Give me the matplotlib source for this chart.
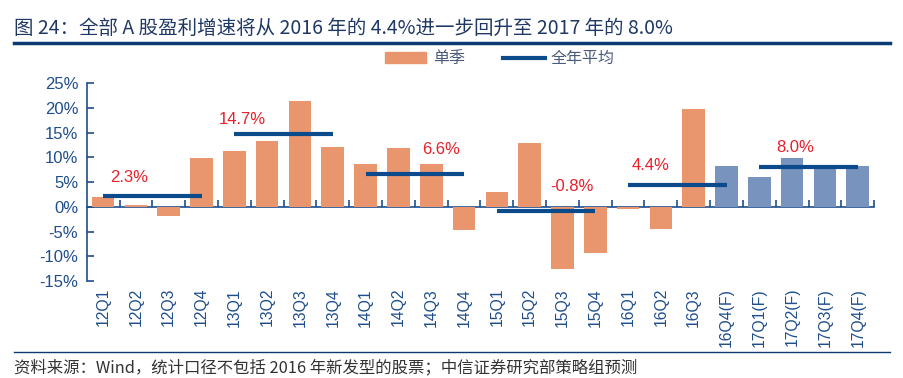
import matplotlib.pyplot as plt
from matplotlib.lines import Line2D
from matplotlib.patches import Patch

plt.rcParams['font.family'] = ['Noto Sans CJK SC', 'DejaVu Sans']

# 数据
quarters = ['12Q1', '12Q2', '12Q3', '12Q4', '13Q1', '13Q2', '13Q3', '13Q4',
            '14Q1', '14Q2', '14Q3', '14Q4', '15Q1', '15Q2', '15Q3', '15Q4',
            '16Q1', '16Q2', '16Q3', '16Q4(F)', '17Q1(F)', '17Q2(F)', '17Q3(F)', '17Q4(F)']
growth = [2.0, 0.3, -1.8, 9.9, 11.3, 13.3, 21.4, 12.1,
          8.7, 11.9, 8.7, -4.7, 3.0, 12.9, -12.6, -9.3,
          -0.4, -4.5, 19.8, 8.2, 6.0, 9.9, 8.2, 8.2]
forecast = [False] * 19 + [True] * 5

years = ['2012', '2013', '2014', '2015', '2016', '2017']
year_avg = [2.3, 14.7, 6.6, -0.8, 4.4, 8.0]
year_labels = ['2.3%', '14.7%', '6.6%', '-0.8%', '4.4%', '8.0%']

orange = '#E9966F'
blue_bar = '#7893BE'
navy = '#0B4A8B'
axis_col = '#1F4E8C'
red = '#E8202A'
latin = 'Liberation Sans'

fig = plt.figure(figsize=(9.04, 3.78), dpi=100)
ax = fig.add_axes([0.0959, 0.2566, 0.8711, 0.523])

x = list(range(len(quarters)))
colors = [blue_bar if f else orange for f in forecast]
ax.bar(x, growth, width=0.69, color=colors, zorder=2)

# 全年平均线（从第一季度中点到第四季度中点）
label_dx = [0.8, 0.25, 2.3, 2.3, 0.7, 1.1]
label_dy = [3.6, 3.0, 5.0, 4.9, 3.9, 4.0]
for i, avg in enumerate(year_avg):
    start = i * 4
    ax.hlines(avg, start, start + 3, color=navy, lw=3, zorder=3)
    ax.text(start + label_dx[i], avg + label_dy[i], year_labels[i],
            color=red, fontsize=12, ha='center', va='center', family=latin)

ax.set_xlim(-0.5, len(quarters) - 0.5)
ax.set_ylim(-15, 25)
ax.set_yticks(range(-15, 30, 5))
ax.set_yticklabels([f'{v}%' for v in range(-15, 30, 5)], family=latin)

for s in ['top', 'right', 'bottom']:
    ax.spines[s].set_visible(False)
ax.spines['left'].set_color(axis_col)
ax.spines['left'].set_linewidth(1.2)
ax.tick_params(axis='y', direction='in', length=5, width=1.2, colors=axis_col,
               labelsize=12, pad=6)

ax.set_xticks(x)
ax.set_xticklabels(quarters, rotation=90, family=latin)
ax.tick_params(axis='x', length=0, colors=axis_col, labelsize=11.3, pad=5)

# 零轴及分隔刻度
zero_ax = ax.secondary_xaxis(15 / 40)
zero_ax.set_xticks([i + 0.5 for i in x])
zero_ax.tick_params(direction='in', length=5, width=1.2, colors=axis_col,
                    labelbottom=False, labeltop=False)
zero_ax.spines['bottom'].set_color(axis_col)
zero_ax.spines['bottom'].set_linewidth(1.2)

# 图例
handles = [Patch(color=orange), Line2D([0], [0], color=navy, lw=3)]
fig.legend(handles, ['单季', '全年平均'], loc='center', bbox_to_anchor=(0.553, 0.844),
           ncol=2, frameon=False, fontsize=11.5, handlelength=2.6, handleheight=0.7,
           handletextpad=0.4, columnspacing=2.4, labelcolor='#4A5A7A')

# 标题与来源
fig.text(0.016, 0.925, '图 24：全部 A 股盈利增速将从 2016 年的 4.4%进一步回升至 2017 年的 8.0%',
         fontsize=14, color='#1F3864', va='center')
fig.add_artist(Line2D([0.015, 0.985], [0.886, 0.886], color='#0B3A72', lw=2.5))
fig.add_artist(Line2D([0.015, 0.985], [0.069, 0.069], color='#0B3A72', lw=1))
fig.text(0.016, 0.028, '资料来源：Wind，统计口径不包括 2016 年新发型的股票；中信证券研究部策略组预测',
         fontsize=11.8, color='#333333', va='center')

fig.savefig('out.png', dpi=100)
